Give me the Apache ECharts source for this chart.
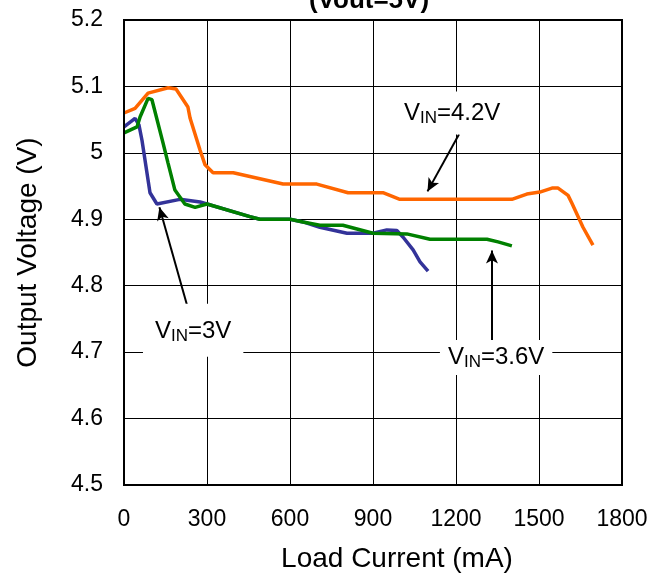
<!DOCTYPE html>
<html>
<head>
<meta charset="utf-8">
<script src="https://cdn.jsdelivr.net/npm/echarts@6/dist/echarts.min.js"></script>
<style>
  html, body { margin: 0; padding: 0; background: #fff; }
  #chart { width: 668px; height: 578px; }
</style>
</head>
<body>
<div id="chart"></div>
<script>
// load current (mA) / output voltage (V)
const vin42Current = [0, 40, 87, 160, 188, 231, 239, 275, 293, 322, 395, 575, 697, 810, 936, 997, 1402, 1456, 1503, 1547, 1569, 1605, 1619, 1659, 1695]
const vin42Voltage = [5.06, 5.067, 5.09, 5.098, 5.096, 5.069, 5.052, 5.004, 4.982, 4.97, 4.97, 4.953, 4.953, 4.94, 4.94, 4.93, 4.93, 4.938, 4.941, 4.947, 4.947, 4.936, 4.924, 4.888, 4.861]

const vin3Current = [0, 40, 54, 65, 94, 119, 202, 275, 300, 455, 491, 600, 647, 708, 806, 900, 950, 986, 1009, 1045, 1070, 1099]
const vin3Voltage = [5.039, 5.052, 5.042, 5.019, 4.94, 4.923, 4.93, 4.926, 4.923, 4.904, 4.9, 4.9, 4.896, 4.888, 4.879, 4.879, 4.884, 4.883, 4.873, 4.854, 4.836, 4.822]

const vin36Current = [0, 47, 58, 87, 101, 141, 159, 184, 220, 257, 300, 455, 491, 600, 647, 708, 791, 900, 1022, 1106, 1312, 1352, 1402]
const vin36Voltage = [5.03, 5.039, 5.054, 5.082, 5.08, 5.015, 4.985, 4.944, 4.923, 4.918, 4.923, 4.904, 4.9, 4.9, 4.896, 4.891, 4.891, 4.879, 4.878, 4.87, 4.87, 4.866, 4.86]

const xTicks = { min: 0, max: 1800, interval: 300 }
const yTicks = { min: 4.5, max: 5.2, interval: 0.1 }

const zip = (xs, ys) => xs.map((x, i) => [x, ys[i]])

const chart = echarts.init(document.getElementById('chart'), null, { renderer: 'canvas' })

const font = 'Liberation Sans, Arial, sans-serif'
const rich = {
  a: { fontFamily: font, fontSize: 24, color: '#000' },
  b: { fontFamily: font, fontSize: 17, color: '#000', padding: [10, 0, 0, 0] },
}

// text callout sitting on a white box, placed in data units
function note(coord, text, padding) {
  return {
    coord,
    symbol: 'rect',
    symbolSize: 1,
    itemStyle: { color: 'rgba(0,0,0,0)' },
    label: {
      show: true,
      position: 'inside',
      formatter: text,
      rich,
      backgroundColor: '#fff',
      padding,
    },
  }
}

function arrow(from, to) {
  return [{ coord: from }, { coord: to }]
}

const arrowStyle = {
  silent: true,
  symbol: ['none', 'arrow'],
  symbolSize: [9, 13],
  label: { show: false },
  lineStyle: { color: '#000', width: 2, type: 'solid' },
  emphasis: { disabled: true },
}

chart.setOption({
  animation: false,
  title: {
    text: '(Vout=5V)',
    left: 364,
    textAlign: 'center',
    top: -17,
    textStyle: { fontFamily: font, fontSize: 26, fontWeight: 'bold', color: '#000' },
  },
  grid: { left: 124, right: 46, top: 20, bottom: 93 },
  xAxis: {
    type: 'value',
    ...xTicks,
    name: 'Load Current (mA)',
    nameLocation: 'middle',
    nameGap: 60,
    nameTextStyle: { fontFamily: font, fontSize: 28, color: '#000', padding: [0, 0, 0, 48] },
    axisLine: { show: true, lineStyle: { color: '#000', width: 2 } },
    axisTick: { show: false },
    axisLabel: { fontFamily: font, fontSize: 23, color: '#000', margin: 23, formatter: v => String(v) },
    splitLine: { show: true, lineStyle: { color: '#000', width: 1 } },
  },
  yAxis: {
    type: 'value',
    ...yTicks,
    name: 'Output Voltage (V)',
    nameLocation: 'middle',
    nameGap: 82,
    nameTextStyle: { fontFamily: font, fontSize: 28, color: '#000' },
    axisLine: { show: true, lineStyle: { color: '#000', width: 2 } },
    axisTick: { show: false },
    axisLabel: {
      fontFamily: font, fontSize: 23, color: '#000', margin: 21,
      formatter: v => String(Math.round(v * 10) / 10),
    },
    splitLine: { show: true, lineStyle: { color: '#000', width: 1 } },
  },
  graphic: [{
    type: 'rect',
    shape: { x: 124, y: 20, width: 498, height: 465 },
    style: { fill: 'none', stroke: '#000', lineWidth: 2 },
    silent: true,
    z: 10,
  }],
  series: [
    {
      name: 'VIN=3V',
      type: 'line',
      data: zip(vin3Current, vin3Voltage),
      showSymbol: false,
      lineStyle: { color: '#333399', width: 3.5 },
      itemStyle: { color: '#333399' },
      markLine: { ...arrowStyle, data: [arrow([231, 4.766], [128, 4.918])] },
      markPoint: { data: [note([250, 4.733], '{a|V}{b|IN}{a|=3V}', [14, 12, 12, 12])] },
      z: 3,
    },
    {
      name: 'VIN=4.2V',
      type: 'line',
      data: zip(vin42Current, vin42Voltage),
      showSymbol: false,
      lineStyle: { color: '#FF6600', width: 3.5 },
      itemStyle: { color: '#FF6600' },
      markLine: { ...arrowStyle, data: [arrow([1211, 5.028], [1097, 4.942])] },
      markPoint: { data: [note([1186, 5.06], '{a|V}{b|IN}{a|=4.2V}', [8, 8])] },
      z: 4,
    },
    {
      name: 'VIN=3.6V',
      type: 'line',
      data: zip(vin36Current, vin36Voltage),
      showSymbol: false,
      lineStyle: { color: '#008000', width: 3.5 },
      itemStyle: { color: '#008000' },
      markLine: { ...arrowStyle, data: [arrow([1330, 4.71], [1330, 4.853])] },
      markPoint: { data: [note([1345, 4.692], '{a|V}{b|IN}{a|=3.6V}', [4, 8])] },
      z: 5,
    },
  ],
})
</script>
</body>
</html>
